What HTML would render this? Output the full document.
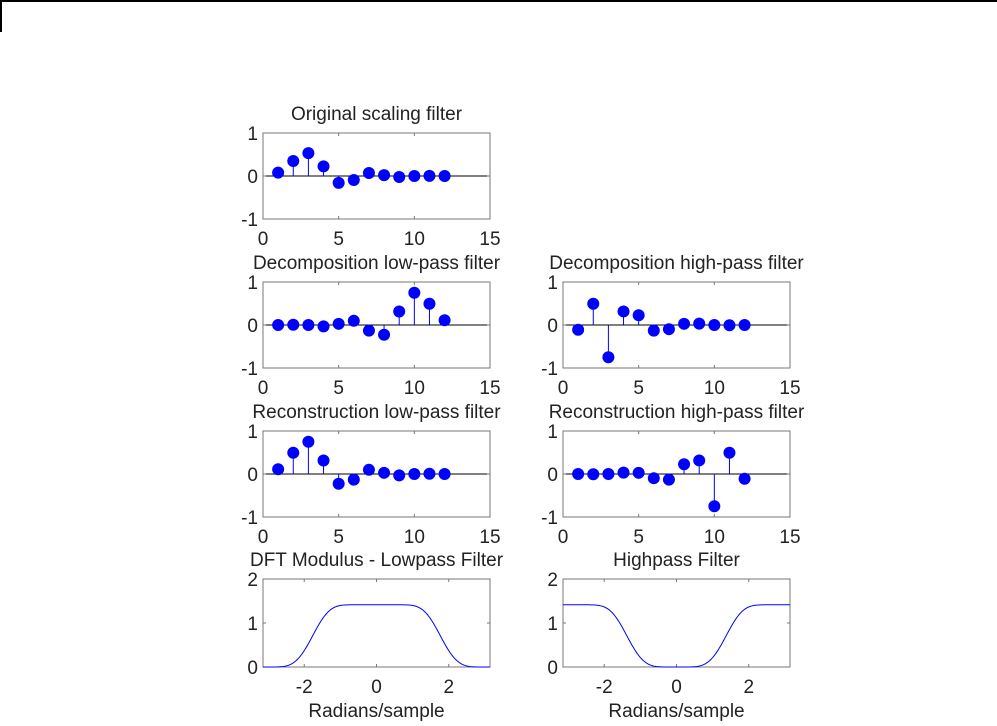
<!DOCTYPE html>
<html><head><meta charset="utf-8"><style>
body{margin:0;background:#fff;width:997px;height:721px;overflow:hidden}
svg text{font-family:"Liberation Sans",Arial,sans-serif;font-size:19px;fill:#222}
</style></head><body>
<svg id="s" width="997" height="721" xmlns="http://www.w3.org/2000/svg">
<rect x="0" y="0" width="997" height="2" fill="#000"/>
<rect x="0" y="0" width="2" height="32" fill="#000"/>
</svg>
<script>
const s=document.getElementById('s');let o='';
const lo=[0.0789,0.3498,0.5311,0.2229,-0.1600,-0.0918,0.0689,0.0195,-0.0223,0.0004,0.0034,-0.0008];
const rl=lo.map(v=>v*Math.SQRT2);
const dl=rl.slice().reverse();
const dh2=[-0.1115,0.4946,-0.7511,0.3153,0.2263,-0.1298,-0.0975,0.0275,0.0316,0.0006,-0.0048,-0.0011];
const rh=dh2.slice().reverse();
function stem(x0,y0,title,data){
 const w=227,h=86,x1=x0+w,y1=y0+h;
 const X=v=>x0+v/15*w,Y=v=>y0+h/2-v*h/2;
 o+=`<text x="${x0+w/2}" y="${y0-13}" text-anchor="middle">${title}</text>`;
 o+=`<rect x="${x0}" y="${y0}" width="${w}" height="${h}" fill="#fff" stroke="#777" stroke-width="1"/>`;
 o+=`<line x1="${x0}" x2="${x1}" y1="${Y(0)}" y2="${Y(0)}" stroke="#000"/>`;
 [0,5,10,15].forEach(t=>{o+=`<text x="${X(t)}" y="${y1+26}" text-anchor="middle">${t}</text>`;
  o+=`<line x1="${X(t)}" x2="${X(t)}" y1="${y1}" y2="${y1-3}" stroke="#777"/><line x1="${X(t)}" x2="${X(t)}" y1="${y0}" y2="${y0+3}" stroke="#777"/>`});
 [1,0,-1].forEach(t=>{o+=`<text x="${x0-5}" y="${Y(t)+7}" text-anchor="end">${t}</text>`;
  o+=`<line x1="${x0}" x2="${x0+3}" y1="${Y(t)}" y2="${Y(t)}" stroke="#777"/><line x1="${x1}" x2="${x1-3}" y1="${Y(t)}" y2="${Y(t)}" stroke="#777"/>`});
 data.forEach((v,i)=>{const x=X(i+1),y=Y(v);
  o+=`<line x1="${x}" x2="${x}" y1="${Y(0)}" y2="${y}" stroke="#00f"/><circle cx="${x}" cy="${y}" r="6" fill="#00f"/>`});
}
function dft(x0,y0,title,data){
 const w=227,h=88,x1=x0+w,y1=y0+h;
 const X=v=>x0+(v+Math.PI)/(2*Math.PI)*w,Y=v=>y1-v/2*h;
 o+=`<text x="${x0+w/2}" y="${y0-13}" text-anchor="middle">${title}</text>`;
 o+=`<rect x="${x0}" y="${y0}" width="${w}" height="${h}" fill="#fff" stroke="#777" stroke-width="1"/>`;
 [-2,0,2].forEach(t=>{o+=`<text x="${X(t)}" y="${y1+26}" text-anchor="middle">${t}</text>`;
  o+=`<line x1="${X(t)}" x2="${X(t)}" y1="${y1}" y2="${y1-3}" stroke="#777"/><line x1="${X(t)}" x2="${X(t)}" y1="${y0}" y2="${y0+3}" stroke="#777"/>`});
 [2,1,0].forEach(t=>{o+=`<text x="${x0-5}" y="${Y(t)+7}" text-anchor="end">${t}</text>`;
  o+=`<line x1="${x0}" x2="${x0+3}" y1="${Y(t)}" y2="${Y(t)}" stroke="#777"/><line x1="${x1}" x2="${x1-3}" y1="${Y(t)}" y2="${Y(t)}" stroke="#777"/>`});
 let p='';for(let i=0;i<=300;i++){const w2=-Math.PI+2*Math.PI*i/300;let re=0,im=0;
  data.forEach((v,k)=>{re+=v*Math.cos(k*w2);im-=v*Math.sin(k*w2)});
  p+=(i?'L':'M')+X(w2).toFixed(2)+','+Y(Math.hypot(re,im)).toFixed(2);}
 o+=`<path d="${p}" fill="none" stroke="#00f" stroke-width="1"/>`;
 o+=`<text x="${x0+w/2}" y="${y1+50}" text-anchor="middle">Radians/sample</text>`;
}
stem(263,133,'Original scaling filter',lo);
stem(263,282,'Decomposition low-pass filter',dl);
stem(563,282,'Decomposition high-pass filter',dh2);
stem(263,431,'Reconstruction low-pass filter',rl);
stem(563,431,'Reconstruction high-pass filter',rh);
dft(263,579,'DFT Modulus - Lowpass Filter',rl);
dft(563,579,'Highpass Filter',dh2);
s.insertAdjacentHTML('beforeend',o);
</script>
</body></html>
